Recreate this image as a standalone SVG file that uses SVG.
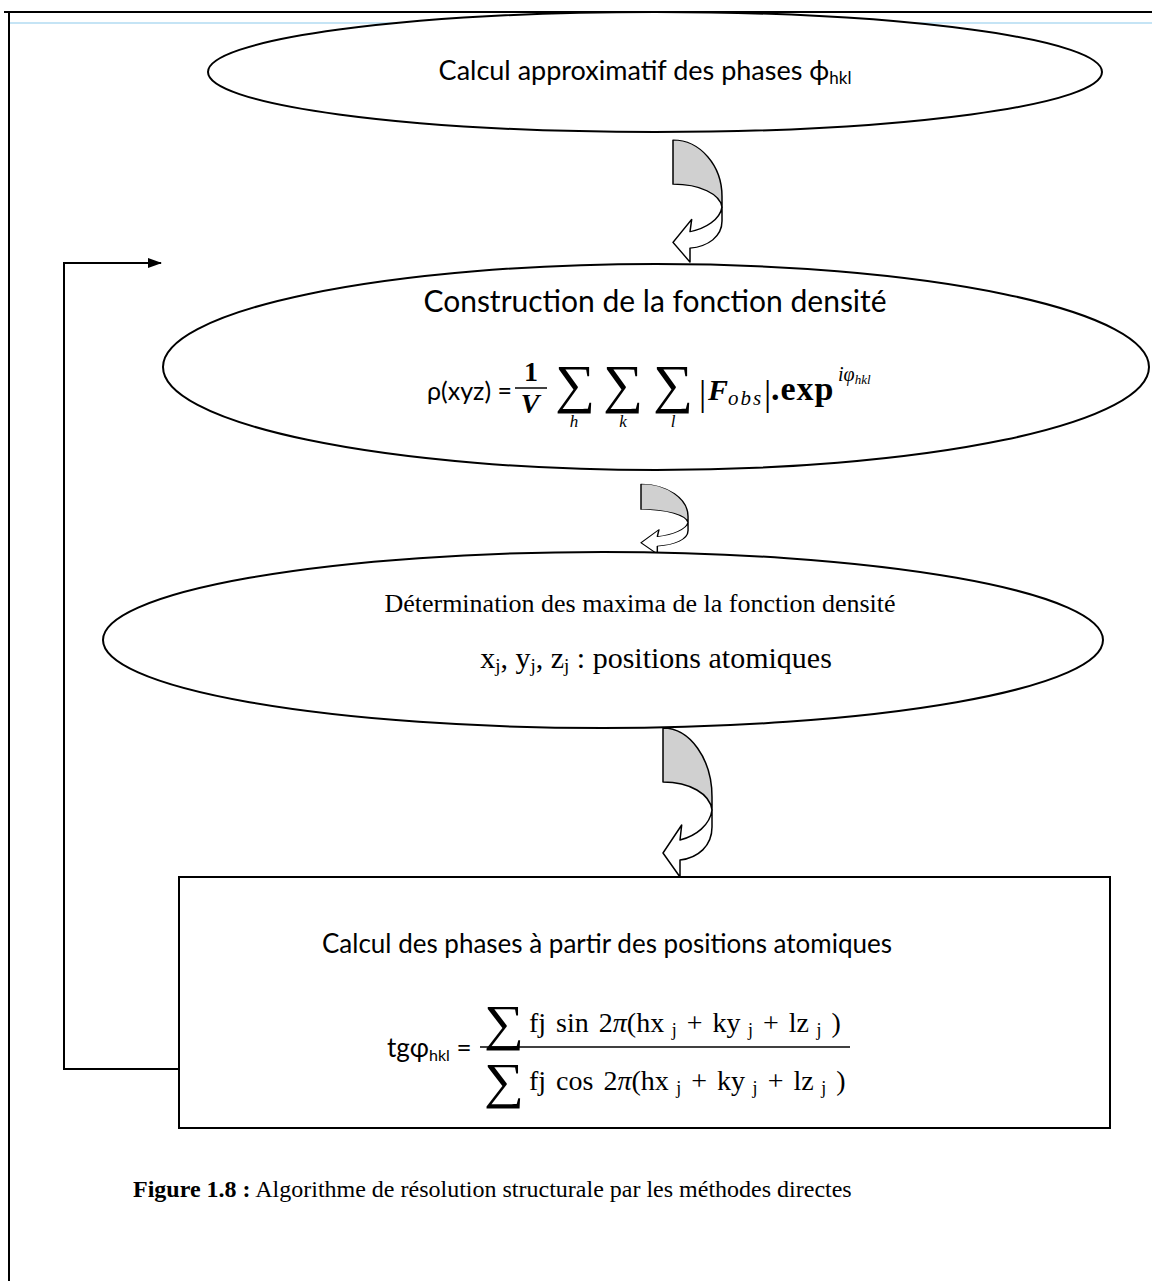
<svg xmlns="http://www.w3.org/2000/svg" width="1152" height="1281" viewBox="0 0 1152 1281">
<style>
.frame{stroke:#000;stroke-width:2;fill:none}
.node{stroke:#000;stroke-width:2;fill:#fff}
.cal{font-family:Lato,"Liberation Sans",sans-serif;fill:#000}
.tnr{font-family:"Liberation Serif","DejaVu Serif",serif;fill:#000}
.gray{fill:#d0d0d0;stroke:#000;stroke-width:1.5;stroke-linejoin:round}
.white{fill:#fff;stroke:#000;stroke-width:1.5;stroke-linejoin:round}
.conn{stroke:#000;stroke-width:2;fill:none}
.sig{font-family:"Liberation Serif","DejaVu Serif",serif;fill:#000;font-size:53px}
</style>
<defs>
<marker id="ah" markerWidth="14" markerHeight="10" refX="13" refY="5" orient="auto" markerUnits="userSpaceOnUse">
<path d="M0,0 L14,5 L0,10 Z" fill="#000"/>
</marker>
<g id="curv">
<path class="gray" d="M0,0 C27,0 49,31 49,69 L49,82 C47,66 27,54 0,54 Z"/>
<path class="white" d="M49,82 L49,99 C49,118 35,130 17,132 L17,149 L0,125 L18.7,97 L17,112 C33,108 47,97 49,82 Z"/>
</g>
</defs>
<rect width="1152" height="1281" fill="#fff"/>
<g id="frame">
<line x1="10" y1="23" x2="1152" y2="23" stroke="#c5e4f5" stroke-width="2"/>
<line class="frame" x1="4" y1="12" x2="1152" y2="12"/>
<line class="frame" x1="9" y1="12" x2="9" y2="1281"/>
</g>
<g id="connectors">
<use href="#curv" transform="translate(673,140) scale(1,0.819)"/>
<use href="#curv" transform="translate(641,484) scale(0.96,0.47)"/>
<use href="#curv" transform="translate(663,728)"/>
<path class="conn" d="M185,1069 H64 V263 H161" marker-end="url(#ah)"/>
</g>
<g id="n1">
<ellipse class="node" cx="655" cy="72" rx="447" ry="60"/>
<text class="cal" x="645" y="80" font-size="27" text-anchor="middle">Calcul approximatif des phases ϕ<tspan font-size="17" dy="4">hkl</tspan></text>
</g>
<g id="n2">
<ellipse class="node" cx="656" cy="367" rx="493" ry="103"/>
<text class="cal" x="655" y="312" font-size="30" text-anchor="middle">Construction de la fonction densité</text>
<text class="cal" x="427" y="400" font-size="25">ρ(xyz) =</text>
<text class="tnr" x="531" y="381" font-size="28" font-weight="bold" text-anchor="middle">1</text>
<line x1="515" y1="388" x2="547" y2="388" stroke="#000" stroke-width="1.5"/>
<text class="tnr" x="530" y="413" font-size="28" font-weight="bold" font-style="italic" text-anchor="middle">V</text>
<text class="sig" x="555" y="402" textLength="40" lengthAdjust="spacingAndGlyphs">∑</text>
<text class="sig" x="603" y="402" textLength="40" lengthAdjust="spacingAndGlyphs">∑</text>
<text class="sig" x="653" y="402" textLength="40" lengthAdjust="spacingAndGlyphs">∑</text>
<text class="tnr" x="574" y="427" font-size="17" font-style="italic" text-anchor="middle">h</text>
<text class="tnr" x="623" y="427" font-size="17" font-style="italic" text-anchor="middle">k</text>
<text class="tnr" x="673" y="427" font-size="17" font-style="italic" text-anchor="middle">l</text>
<text class="tnr" x="699" y="405" font-size="36">|</text>
<text class="tnr" x="708" y="400" font-size="30" font-weight="bold" font-style="italic">F<tspan font-size="21" font-weight="normal" dy="5" letter-spacing="2">obs</tspan></text>
<text class="tnr" x="764" y="405" font-size="36">|</text>
<text class="tnr" x="771" y="400" font-size="34" font-weight="bold" letter-spacing="1">.exp</text>
<text class="tnr" x="838" y="381" font-size="20" font-style="italic">iφ<tspan font-size="13" dy="3">hkl</tspan></text>
</g>
<g id="n3">
<ellipse class="node" cx="603" cy="640" rx="500" ry="88"/>
<text class="tnr" x="640" y="612" font-size="26" text-anchor="middle">Détermination des maxima de la fonction densité</text>
<text class="tnr" x="656" y="668" font-size="30" text-anchor="middle">x<tspan font-size="19" dy="4">j</tspan><tspan dy="-4">, y</tspan><tspan font-size="19" dy="4">j</tspan><tspan dy="-4">, z</tspan><tspan font-size="19" dy="4">j</tspan><tspan dy="-4"> : positions atomiques</tspan></text>
</g>
<g id="n4">
<rect class="node" x="179" y="877" width="931" height="251"/>
<text class="cal" x="607" y="953" font-size="26" text-anchor="middle">Calcul des phases à partir des positions atomiques</text>
<text class="cal" x="387" y="1057" font-size="26">tgφ<tspan font-size="16" dy="4">hkl</tspan><tspan dy="-4"> =</tspan></text>
<text class="sig" x="484" y="1040" textLength="40" lengthAdjust="spacingAndGlyphs" style="font-size:50px">∑</text>
<text class="tnr" x="529" y="1032" font-size="28" word-spacing="3">fj  sin 2<tspan font-style="italic">π</tspan>(hx<tspan font-size="18" dy="4"> j</tspan><tspan dy="-4"> + ky</tspan><tspan font-size="18" dy="4"> j</tspan><tspan dy="-4"> + lz</tspan><tspan font-size="18" dy="4"> j</tspan><tspan dy="-4"> )</tspan></text>
<line x1="480" y1="1047" x2="850" y2="1047" stroke="#000" stroke-width="1.5"/>
<text class="sig" x="484" y="1098" textLength="40" lengthAdjust="spacingAndGlyphs" style="font-size:50px">∑</text>
<text class="tnr" x="529" y="1090" font-size="28" word-spacing="3">fj  cos 2<tspan font-style="italic">π</tspan>(hx<tspan font-size="18" dy="4"> j</tspan><tspan dy="-4"> + ky</tspan><tspan font-size="18" dy="4"> j</tspan><tspan dy="-4"> + lz</tspan><tspan font-size="18" dy="4"> j</tspan><tspan dy="-4"> )</tspan></text>
</g>
<g id="caption">
<text class="tnr" x="133" y="1197" font-size="24"><tspan font-weight="bold">Figure 1.8 :</tspan> Algorithme de résolution structurale par les méthodes directes</text>
</g>
</svg>
